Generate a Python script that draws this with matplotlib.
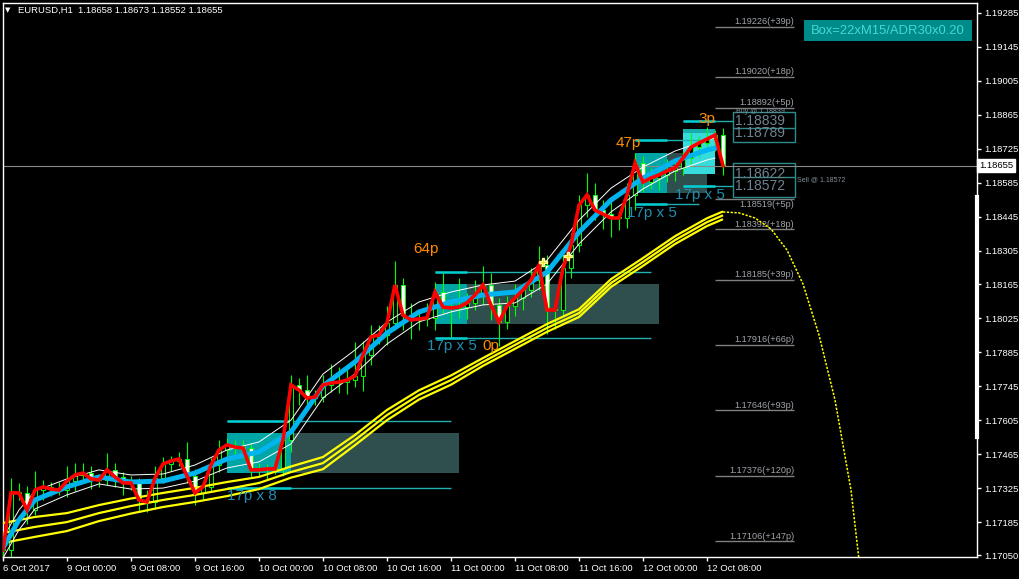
import numpy as np
import matplotlib
matplotlib.use('Agg')
import matplotlib.pyplot as plt
from matplotlib.patches import Rectangle

FONT = 'Liberation Sans'
PIP = 0.0001

# EURUSD H1, bar 0 = 6 Oct 2017 16:00
close = [
    1.17071, 1.17306, 1.17306, 1.17236, 1.17318, 1.17331, 1.17322, 1.17318, 1.17355, 1.17380,
    1.17388, 1.17364, 1.17359, 1.17401, 1.17372, 1.17347, 1.17347, 1.17277, 1.17269, 1.17368,
    1.17425, 1.17438, 1.17446, 1.17376, 1.17306, 1.17331, 1.17421, 1.17483, 1.17504, 1.17495,
    1.17491, 1.17401, 1.17401, 1.17405, 1.17405, 1.17524, 1.17751, 1.17730, 1.17697, 1.17701,
    1.17751, 1.17759, 1.17763, 1.17771, 1.17788, 1.17874, 1.17949, 1.17957, 1.18006, 1.18163,
    1.18039, 1.18019, 1.18023, 1.18027, 1.18134, 1.18072, 1.18068, 1.18072, 1.18089, 1.18122,
    1.18163, 1.18080, 1.18010, 1.18076, 1.18109, 1.18142, 1.18183, 1.18245, 1.18060, 1.18060,
    1.18233, 1.18328, 1.18492, 1.18534, 1.18472, 1.18455, 1.18439, 1.18439, 1.18534, 1.18665,
    1.18587, 1.18604, 1.18616, 1.18633, 1.18645, 1.18686, 1.18731, 1.18748, 1.18764, 1.18781,
    1.18655,
]
wick_up_pips = [
    3, 6, 4, 3, 8, 3, 2, 3, 6, 5, 4, 3, 2, 7, 3, 2, 3, 2, 4, 5,
    3, 2, 3, 7, 3, 2, 3, 4, 3, 2, 3, 2, 3, 2, 3, 5, 4, 3, 6, 3,
    4, 8, 6, 5, 14, 6, 5, 4, 7, 10, 3, 5, 3, 6, 4, 8, 3, 12, 4, 6,
    8, 5, 3, 4, 6, 3, 5, 8, 4, 3, 6, 5, 4, 9, 5, 4, 6, 3, 5, 4,
    3, 4, 3, 5, 4, 3, 6, 3, 5, 2, 3,
]
wick_dn_pips = [
    4, 5, 3, 6, 2, 4, 3, 2, 3, 4, 2, 4, 3, 2, 4, 5, 3, 5, 4, 3,
    2, 3, 2, 3, 5, 3, 2, 3, 2, 3, 4, 3, 3, 4, 2, 3, 5, 6, 4, 3,
    2, 3, 4, 5, 3, 6, 4, 3, 4, 3, 6, 8, 4, 3, 5, 3, 12, 4, 5, 3,
    4, 6, 10, 3, 4, 5, 3, 4, 10, 8, 3, 4, 3, 5, 4, 6, 8, 5, 4, 6,
    4, 3, 5, 3, 4, 3, 3, 4, 3, 5, 4,
]

# fast MA (blue) with white envelope
ma_bars = [0, 2, 4, 8, 12, 16, 20, 24, 28, 32, 36, 40, 44, 48, 52, 56, 60, 64, 68, 72, 76, 80, 84, 88, 89]
ma_blue = [1.17079, 1.17195, 1.17277, 1.17331, 1.17372, 1.17351, 1.17355, 1.17388, 1.17446, 1.17475,
           1.17557, 1.17747, 1.17846, 1.17965, 1.18052, 1.18093, 1.18122, 1.18134, 1.18216, 1.18381,
           1.18513, 1.18604, 1.18674, 1.18719, 1.18727]
band_pips = [4.1, 4.1, 3.7, 3.3, 2.9, 2.9, 2.9, 3.3, 3.7, 4.1, 4.9, 4.9, 4.9, 4.5, 4.1, 4.1, 4.1, 4.5,
             4.9, 4.9, 4.9, 4.5, 4.1, 4.1, 4.1]

# slow MA ribbon (yellow)
slow_bars = [0, 4, 8, 12, 16, 20, 24, 28, 32, 36, 40, 44, 48, 52, 56, 60, 64, 68, 72, 76, 80, 84, 88, 90]
slow_mid = [1.17141, 1.17166, 1.17186, 1.17223, 1.17252, 1.17277, 1.17298, 1.17322, 1.17347, 1.17392,
            1.17429, 1.17524, 1.17627, 1.17710, 1.17771, 1.17846, 1.17916, 1.17986, 1.18047, 1.18171,
            1.18258, 1.18348, 1.18422, 1.18450]
slow_gap_pips = [4.1, 4.1, 3.7, 3.3, 3.1, 2.9, 2.9, 2.9, 2.5, 2.3, 2.5, 2.1, 2.1, 1.9, 1.9, 1.6,
                 1.6, 1.6, 1.6, 1.6, 1.6, 1.6, 1.6, 1.6]

proj_bars = [90, 92, 94, 96, 98, 100, 102, 104, 106, 107]
proj_vals = [1.18464, 1.18460, 1.18439, 1.18394, 1.18307, 1.18167, 1.17957, 1.17689, 1.17318, 1.17030]

star_bars = [67.5, 70.6]
star_vals = [1.18258, 1.18282]

# range boxes
box_start = [28, 54, 79, 85]
box_split = [36, 58, 83, 89]
box_end = [57, 82, 88, 89]
box_low = [1.17388, 1.18002, 1.18542, 1.18622]
box_high = [1.17553, 1.18167, 1.18707, 1.18789]
box_color = ['#00A5A5', '#00A5A5', '#00A5A5', '#36DCDC']
line_low = [1.17326, 1.17945, 1.18497, 1.18572]
line_high = [1.17602, 1.18216, 1.18760, 1.18839]
line_end = [56, 81, 87, 91.25]

level_labels = ['1.19226(+39p)', '1.19020(+18p)', '1.18892(+5p)', '1.18519(+5p)', '1.18392(+18p)',
                '1.18185(+39p)', '1.17916(+66p)', '1.17646(+93p)', '1.17376(+120p)', '1.17106(+147p)']
level_prices = [1.19226, 1.19020, 1.18892, 1.18519, 1.18392, 1.18185, 1.17916, 1.17646, 1.17376, 1.17106]
entry_labels = ['1.18839', '1.18789', '1.18622', '1.18572']
entry_prices = [1.18839, 1.18789, 1.18622, 1.18572]

price_ticks = [1.19285, 1.19145, 1.19005, 1.18865, 1.18725, 1.18585, 1.18445, 1.18305, 1.18165,
               1.18025, 1.17885, 1.17745, 1.17605, 1.17465, 1.17325, 1.17185, 1.17050]
time_bars = [0, 8, 16, 24, 32, 40, 48, 56, 64, 72, 80, 88]
time_labels = ['6 Oct 2017', '9 Oct 00:00', '9 Oct 08:00', '9 Oct 16:00', '10 Oct 00:00', '10 Oct 08:00',
               '10 Oct 16:00', '11 Oct 00:00', '11 Oct 08:00', '11 Oct 16:00', '12 Oct 00:00', '12 Oct 08:00']
bid = 1.18655

W, H = 1020, 579
fig = plt.figure(figsize=(W / 100, H / 100), dpi=100, facecolor='black')
ax = fig.add_axes([3 / W, 22 / H, 974 / W, 554 / H], facecolor='black')
ax.set_xlim(0, 121.75)
ax.set_ylim(1.17042, 1.19325)

# boxes
for s, m, e, lo, hi, c in zip(box_start, box_split, box_end, box_low, box_high, box_color):
    if e > m:
        ax.add_patch(Rectangle((s, lo), e - s, hi - lo, color='#2F4F4F', lw=0, zorder=1))
    ax.add_patch(Rectangle((s, lo), m - s, hi - lo, color=c, lw=0, zorder=1.1))
for s, m, e, lo, hi in zip(box_start, box_split, line_end, line_low, line_high):
    ax.hlines([lo, hi], s, e, color='#1FB0B0', lw=1, zorder=1.2)
    ax.hlines([lo, hi], s, m, color='#00CED1', lw=1.8, zorder=1.3)
ax.add_patch(Rectangle((85, 1.18789), 4, 0.00018, color='#18AEAE', lw=0, zorder=1.15))

# level lines on the right
for lab, p in zip(level_labels, level_prices):
    ax.hlines(p, 89, 98.9, color='#7F7F7F', lw=1, zorder=2)
    below = p < bid and p > 1.185
    ax.text(98.9, p + (-0.4 if below else 0.3) * PIP, lab, ha='right',
            va='top' if below else 'bottom', fontsize=6.6, color='#A0A4AA', family=FONT, zorder=2)

ax.add_patch(Rectangle((91.25, 1.18752), 7.75, 0.00124, fill=False, ec='#2E8B8B', lw=1, zorder=2))
ax.add_patch(Rectangle((91.25, 1.18525), 7.75, 0.00140, fill=False, ec='#2E8B8B', lw=1, zorder=2))
ax.hlines([1.18810, 1.18608], 91.25, 99, color='#2E8B8B', lw=1, zorder=2)
for lab, p in zip(entry_labels, entry_prices):
    ax.text(91.5, p, lab, ha='left', va='center', fontsize=10, color='#6F8390', family=FONT, zorder=2)
ax.text(91.6, 1.18876, 'Buy @ 1.18839', ha='left', va='center', fontsize=5, color='#7F8E99',
        family=FONT, zorder=2.1)
ax.text(99.3, 1.18597, 'Sell @ 1.18572', ha='left', va='center', fontsize=5, color='#7F8E99',
        family=FONT, zorder=2.1)

# bid line
ax.axhline(bid, color='#8A8A8A', lw=0.8, zorder=2)

# candles
opens = [close[0]] + close[:-1]
for i, (o, c) in enumerate(zip(opens, close)):
    hi = max(o, c) + wick_up_pips[i] * PIP
    lo = min(o, c) - wick_dn_pips[i] * PIP
    ax.vlines(i, lo, hi, color='#00FF00', lw=0.8, zorder=3)
    face = 'black' if c >= o else 'white'
    ax.add_patch(Rectangle((i - 0.3, min(o, c)), 0.6, max(abs(c - o), 0.3 * PIP),
                           fc=face, ec='#00FF00', lw=0.7, zorder=3.1))

# slow ribbon
mid = np.array(slow_mid)
gap = np.array(slow_gap_pips) * PIP
for k in (-1, 0, 1):
    ax.plot(slow_bars, mid + k * gap, color='#FFFF00', lw=1.6, zorder=4, solid_capstyle='butt')
ax.plot(proj_bars, proj_vals, color='#FFFF00', lw=1.1, ls=(0, (1.5, 1)), zorder=4)

# fast MA + envelope
blue = np.array(ma_blue)
band = np.array(band_pips) * PIP
ax.plot(ma_bars, blue + band, color='white', lw=0.7, zorder=4.5)
ax.plot(ma_bars, blue - band, color='white', lw=0.7, zorder=4.5)
ax.plot(ma_bars, blue, color='#00B4F0', lw=3.6, zorder=5, solid_joinstyle='round')

ax.plot(range(len(close)), close, color='#FF0000', lw=2.6, zorder=6, solid_joinstyle='miter')
ax.plot(star_bars, star_vals, ls='none', marker='P', ms=6, color='#FFD700', mec='#FFFFA0', zorder=6.5)

# box labels
orange = '#FF8C00'
teal_txt = '#1E8FB0'
ax.text(52.9, 1.18311, '64p', ha='center', va='center', fontsize=11, color=orange, family=FONT, zorder=7)
ax.text(78.1, 1.18748, '47p', ha='center', va='center', fontsize=11, color=orange, family=FONT, zorder=7)
ax.text(88.0, 1.18847, '3p', ha='center', va='center', fontsize=11, color=orange, family=FONT, zorder=7)
ax.text(28.0, 1.17294, '17p x 8', ha='left', va='center', fontsize=11, color=teal_txt, family=FONT, zorder=7)
ax.text(53.0, 1.17912, '17p x 5', ha='left', va='center', fontsize=11, color=teal_txt, family=FONT, zorder=7)
ax.text(59.9, 1.17912, '0p', ha='left', va='center', fontsize=11, color=orange, family=FONT, zorder=7)
ax.text(78.0, 1.18459, '17p x 5', ha='left', va='center', fontsize=11, color=teal_txt, family=FONT, zorder=7)
ax.text(84.0, 1.18534, '17p x 5', ha='left', va='center', fontsize=11, color=teal_txt, family=FONT, zorder=7)

# axes styling
for sp in ax.spines.values():
    sp.set_color('white')
    sp.set_linewidth(1)
ax.yaxis.tick_right()
ax.set_yticks(price_ticks)
ax.set_yticklabels([f'{p:.5f}' for p in price_ticks])
ax.set_xticks(time_bars)
ax.set_xticklabels(time_labels)
ax.tick_params(colors='white', length=3, width=1, labelsize=6.8, pad=2)
for lab in ax.get_xticklabels():
    lab.set_ha('left')
    lab.set_family(FONT)
for lab in ax.get_yticklabels():
    lab.set_family(FONT)
ax.plot([1, 1], [0.2166, 0.65], transform=ax.transAxes, color='white', lw=3, clip_on=False, zorder=10)
ax.text(1.002, bid, f'{bid:.5f}', transform=ax.get_yaxis_transform(), ha='left', va='center',
        fontsize=6.8, color='black', family=FONT,
        bbox=dict(facecolor='white', edgecolor='white', pad=1.2), zorder=11)

fig.text(5 / W, 1 - 10 / H, '\u25bc', color='white', fontsize=5, va='center', ha='left')
fig.text(18 / W, 1 - 10 / H, 'EURUSD,H1  1.18658 1.18673 1.18552 1.18655', color='white',
         fontsize=6.8, va='center', ha='left', family=FONT)
fig.add_artist(Rectangle((804 / W, 1 - 41 / H), 168 / W, 21 / H, transform=fig.transFigure,
                         color='#008B8B', lw=0))
fig.text(888 / W, 1 - 31 / H, 'Box=22xM15/ADR30x0.20', color='#45D8D0', fontsize=9.4,
         va='center', ha='center', family=FONT)

fig.savefig('out.png', dpi=100, facecolor='black')
